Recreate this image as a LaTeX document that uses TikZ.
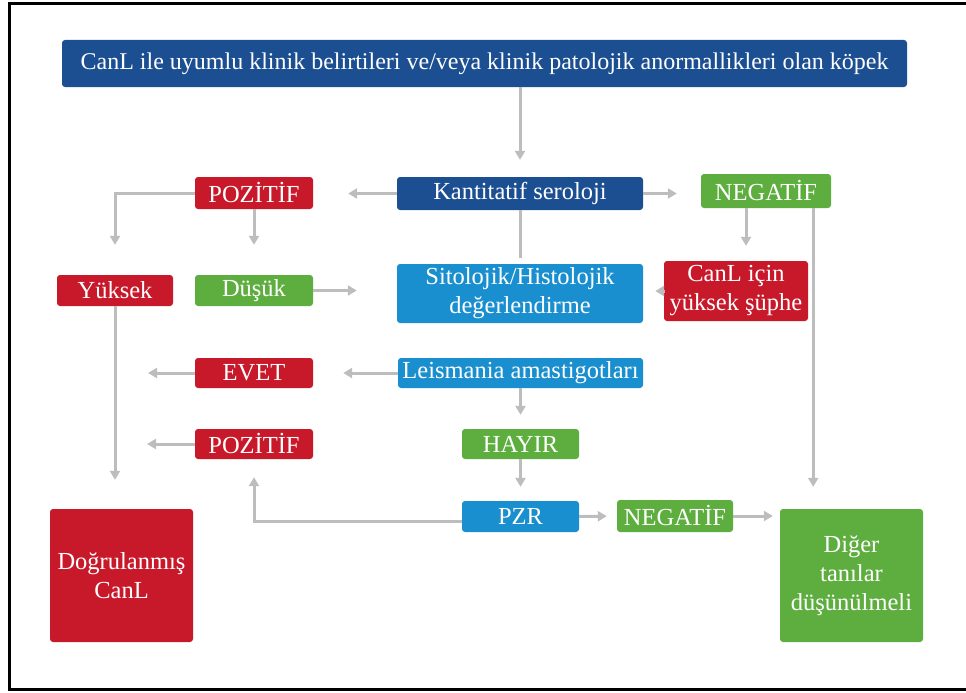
\documentclass[tikz,border=0pt]{standalone}
\usepackage{fontspec}
\setmainfont{Liberation Serif}
\usepackage{xcolor}
\usepackage{tikz}
\usetikzlibrary{arrows.meta,positioning}
\definecolor{clDark}{HTML}{1C4F91}
\definecolor{clLight}{HTML}{1A8FCF}
\definecolor{clRed}{HTML}{C8192B}
\definecolor{clGreen}{HTML}{5DAE3E}
\definecolor{clArrow}{HTML}{BDBDBD}
\tikzset{
  % Base box
  kutu/.style={rectangle,rounded corners=3pt,inner sep=0pt,
    align=center,text=white,
    font=\fontsize{24.5}{29}\selectfont},
  % Dark blue box
  darkbox/.style={kutu,fill=clDark},
  % Light blue box
  lightbox/.style={kutu,fill=clLight},
  % Red box
  redbox/.style={kutu,fill=clRed},
  % Green box
  greenbox/.style={kutu,fill=clGreen},
  % Arrows
  arr/.style={-{Triangle[length=9pt,width=10pt]},line width=3pt,color=clArrow},
  ln/.style={line width=3pt,color=clArrow},
}
\begin{document}
\begin{tikzpicture}[x=1pt,y=-1pt]
  \useasboundingbox (0,0) rectangle (966,693);

  % Frame
  \draw[line width=3pt] (966,4) -- (9,4) -- (9,689) -- (966,689);

  % Top
  \node[darkbox,minimum width=845pt,minimum height=47pt,
    font=\fontsize{24}{28}\selectfont] (kopek) at (484.5,63.5)
    {CanL ile uyumlu klinik belirtileri ve/veya klinik patolojik anormallikleri olan köpek};

  % Serology row
  \node[darkbox,minimum width=246pt,minimum height=33pt] (seroloji) at (520,193.5) {Kantitatif seroloji};
  \node[redbox,minimum width=118pt,minimum height=32pt] (poz1) at (254,193) {POZİTİF};
  \node[greenbox,minimum width=130pt,minimum height=34pt] (neg1) at (766,191) {NEGATİF};

  % Cytology row
  \node[redbox,minimum width=116pt,minimum height=31pt] (yuksek) at (115,290.5) {Yüksek};
  \node[greenbox,minimum width=118pt,minimum height=31pt] (dusuk) at (254,290.5) {Düşük};
  \node[lightbox,minimum width=246pt,minimum height=59pt] (sitoloji) at (520,293.5)
    {Sitolojik/Histolojik\\değerlendirme};
  \node[redbox,minimum width=144pt,minimum height=60pt] (suphe) at (736,291)
    {CanL için\\yüksek şüphe};

  % Amastigote / PZR rows
  \node[redbox,minimum width=118pt,minimum height=30pt] (evet) at (254,373) {EVET};
  \node[lightbox,minimum width=245pt,minimum height=30pt] (amastigot) at (520.5,373) {Leismania amastigotları};
  \node[redbox,minimum width=118pt,minimum height=30pt] (poz2) at (254,444) {POZİTİF};
  \node[greenbox,minimum width=117pt,minimum height=30pt] (hayir) at (520.5,444) {HAYIR};
  \node[lightbox,minimum width=117pt,minimum height=31pt] (pzr) at (520.5,516.5) {PZR};
  \node[greenbox,minimum width=116pt,minimum height=32pt] (neg2) at (675,516) {NEGATİF};

  % Results
  \node[redbox,minimum width=143pt,minimum height=133pt] (dogru) at (121.5,575.5)
    {Doğrulanmış\\CanL};
  \node[greenbox,minimum width=143pt,minimum height=133pt] (diger) at (851.5,575.5)
    {Diğer\\tanılar\\düşünülmeli};

  % Connectors
  \draw[arr,shorten >=17pt] (kopek.south -| seroloji.north) -- (seroloji.north);
  \draw[arr,shorten >=35pt] (seroloji.west) -- (seroloji.west -| poz1.east);
  \draw[arr,shorten >=24pt] (seroloji.east) -- (seroloji.east -| neg1.west);
  \draw[ln,shorten >=6pt] (seroloji.south) -- (sitoloji.north);
  \draw[arr,shorten >=30pt] (poz1.west) -| (yuksek.north);
  \draw[arr,shorten >=30pt] (poz1.south) -- (dusuk.north);
  \draw[arr,shorten >=40pt] (dusuk.east) -- (dusuk.east -| sitoloji.west);
  \draw[arr,shorten >=15pt] ([xshift=-20pt]neg1.south) -- ([xshift=-20pt]neg1.south |- suphe.north);
  \draw[arr,shorten >=22pt] ([xshift=-18pt]neg1.south east) -- ([xshift=-18pt]neg1.south east |- diger.north);
  \draw[arr,shorten >=12pt] (suphe.west) -- (suphe.west -| sitoloji.east);
  \draw[arr,shorten >=29pt] (yuksek.south) -- (yuksek.south |- dogru.north);
  \draw[arr,shorten >=30pt] (amastigot.west) -- (evet.east);
  \draw[arr,shorten >=33pt] (evet.west) -- (evet.west -| yuksek.south);
  \draw[arr,shorten >=32pt] (poz2.west) -- (poz2.west -| yuksek.south);
  \draw[arr,shorten >=14pt] (amastigot.south) -- (hayir.north);
  \draw[arr,shorten >=14pt] (hayir.south) -- (pzr.north);
  \draw[arr,shorten >=18pt] ([yshift=-5pt]pzr.west) -| (poz2.south);
  \draw[arr,shorten >=10pt] (pzr.east) -- (neg2.west);
  \draw[arr,shorten >=7pt] (neg2.east) -- (neg2.east -| diger.west);
\end{tikzpicture}
\end{document}
